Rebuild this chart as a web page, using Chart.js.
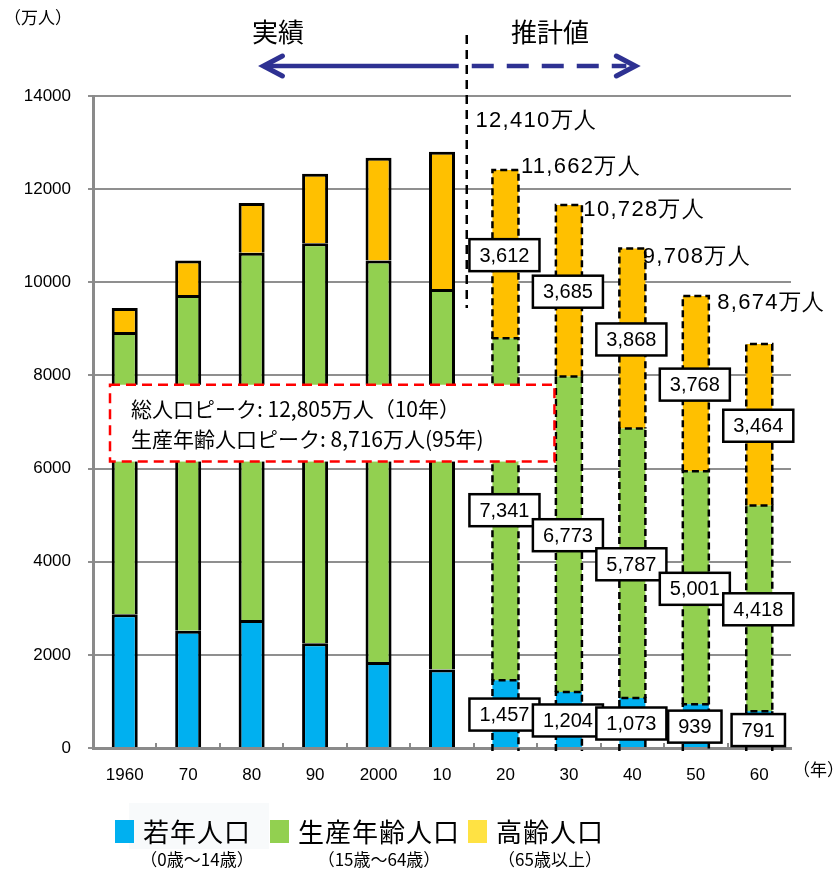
<!DOCTYPE html>
<html>
<head>
<meta charset="utf-8">
<script src="https://cdn.jsdelivr.net/npm/chart.js@4.4.1/dist/chart.umd.min.js"></script>
<style>
  html, body { margin: 0; padding: 0; background: #fff; }
  #wrap { width: 834px; height: 870px; position: relative; }
</style>
</head>
<body>
<div id="wrap"><canvas id="c" width="834" height="870"></canvas></div>
<script>
// 年齢3区分別人口の推移（万人）
const years    = ['1960', '70', '80', '90', '2000', '10', '20', '30', '40', '50', '60'];
const youth    = [2870, 2515, 2751, 2249, 1847, 1684, 1457, 1204, 1073, 939, 791];     // 0〜14歳
const working  = [6060, 7212, 7884, 8590, 8622, 8173, 7341, 6773, 5787, 5001, 4418];   // 15〜64歳
const elderly  = [520, 739, 1065, 1489, 2204, 2948, 3612, 3685, 3868, 3768, 3464];     // 65歳以上
const projectedTotals = [12410, 11662, 10728, 9708, 8674];                             // 2020〜2060 総人口
const yTicks   = [0, 2000, 4000, 6000, 8000, 10000, 12000, 14000];
const firstProjected = 6;  // 2020年以降は推計値

const peakNotes = ['総人口ピーク: 12,805万人（10年）', '生産年齢人口ピーク: 8,716万人(95年)'];
const legendItems = [
  { name: '若年人口',     sub: '（0歳～14歳）',  color: '#00B0F0' },
  { name: '生産年齢人口', sub: '（15歳～64歳）', color: '#92D050' },
  { name: '高齢人口',     sub: '（65歳以上）',   color: '#FFE243' }
];

const JP = '"Noto Sans CJK JP", "Noto Sans", sans-serif';
const NUM = '"Liberation Sans", Arial, sans-serif';
const fmt = v => v.toLocaleString('en-US');

const solidBorder = ctx => ctx.dataIndex < firstProjected
  ? { top: 3, left: 3, right: 3, bottom: 0 } : 0;

function makeSet(label, data, color) {
  return {
    label, data,
    backgroundColor: color,
    borderColor: '#000',
    borderWidth: solidBorder,
    borderSkipped: false,
    categoryPercentage: 1,
    barPercentage: 0.41
  };
}

// 総人口ラベルの棒からのずれ（px）
const totalLabelShift = [[-30, -49], [-48, -38], [-49, -38], [-53, -39], [-42, -41]];

const overlay = {
  id: 'overlay',
  afterDatasetsDraw(chart) {
    const { ctx, chartArea: area, scales: { x, y } } = chart;
    const step = x.getPixelForValue(1) - x.getPixelForValue(0);
    ctx.save();

    // x軸の目盛り（区切り位置、内向き）
    ctx.strokeStyle = '#8a8a8a';
    ctx.lineWidth = 2;
    for (let i = 1; i < years.length; i++) {
      const bx = Math.round(x.getPixelForValue(i) - step / 2);
      ctx.beginPath(); ctx.moveTo(bx, area.bottom); ctx.lineTo(bx, area.bottom - 5); ctx.stroke();
    }

    // 推計値の棒は破線枠
    ctx.strokeStyle = '#000';
    ctx.lineWidth = 2.5;
    ctx.setLineDash([7, 4]);
    chart.data.datasets.forEach((ds, di) => {
      chart.getDatasetMeta(di).data.forEach((bar, i) => {
        if (i < firstProjected) return;
        const p = bar.getProps(['x', 'y', 'base', 'width'], true);
        const l = p.x - p.width / 2, r = p.x + p.width / 2;
        const b = p.base + (di === 0 ? 4 : 0);
        ctx.beginPath();
        ctx.moveTo(l, b); ctx.lineTo(l, p.y); ctx.lineTo(r, p.y); ctx.lineTo(r, b);
        ctx.stroke();
      });
    });
    ctx.setLineDash([]);

    // 凡例の「若年人口」背景
    ctx.fillStyle = '#f8fafb';
    ctx.fillRect(129, 803, 140, 46);

    // 区分ごとの値ラベル（推計値）
    ctx.font = '20px ' + NUM;
    ctx.textAlign = 'center';
    ctx.textBaseline = 'middle';
    chart.data.datasets.forEach((ds, di) => {
      chart.getDatasetMeta(di).data.forEach((bar, i) => {
        if (i < firstProjected) return;
        const p = bar.getProps(['x', 'y', 'base'], true);
        const txt = fmt(ds.data[i]);
        const w = ctx.measureText(txt).width + 20, h = 32;
        const cx = p.x - 1, cy = (p.y + p.base) / 2 + 1;
        ctx.fillStyle = '#fff';
        ctx.fillRect(cx - w / 2, cy - h / 2, w, h);
        ctx.strokeStyle = '#000';
        ctx.lineWidth = 2.5;
        ctx.strokeRect(cx - w / 2, cy - h / 2, w, h);
        ctx.fillStyle = '#000';
        ctx.fillText(txt, cx, cy + 1);
      });
    });

    // 総人口ラベル（推計値）
    ctx.font = '22px ' + NUM;
    ctx.textAlign = 'left';
    ctx.fillStyle = '#000';
    if ('letterSpacing' in ctx) ctx.letterSpacing = '1.3px';
    projectedTotals.forEach((t, k) => {
      const i = firstProjected + k;
      const [dx, dy] = totalLabelShift[k];
      ctx.fillText(fmt(t) + '万人', x.getPixelForValue(i) + dx, y.getPixelForValue(t) + dy);
    });
    if ('letterSpacing' in ctx) ctx.letterSpacing = '0px';

    // ピーク注記（赤破線枠）
    const bx0 = x.getPixelForValue(0) - step / 2 + 17;
    const bx1 = x.getPixelForValue(firstProjected) + 49;
    const by0 = y.getPixelForValue(7800), by1 = y.getPixelForValue(6150);
    ctx.fillStyle = '#fff';
    ctx.fillRect(bx0, by0, bx1 - bx0, by1 - by0);
    ctx.strokeStyle = '#ff0000';
    ctx.lineWidth = 2.5;
    ctx.setLineDash([10, 6]);
    ctx.strokeRect(bx0, by0, bx1 - bx0, by1 - by0);
    ctx.setLineDash([]);
    ctx.fillStyle = '#000';
    ctx.font = '21px ' + JP;
    ctx.fillText(peakNotes[0], bx0 + 21, by0 + 24);
    ctx.fillText(peakNotes[1], bx0 + 21, by0 + 54);

    // 実績／推計値の境界線
    const divX = x.getPixelForValue(firstProjected - 1) + step * 0.39;
    ctx.strokeStyle = '#000';
    ctx.lineWidth = 2.5;
    ctx.setLineDash([9, 6]);
    ctx.beginPath();
    ctx.moveTo(divX, area.top - 61);
    ctx.lineTo(divX, y.getPixelForValue(9450));
    ctx.stroke();
    ctx.setLineDash([]);

    // 矢印
    const ay = area.top - 30;
    const leftTip = x.getPixelForValue(2) + step * 0.17;
    const rightTip = x.getPixelForValue(8) + 4;
    ctx.strokeStyle = '#2E3192';
    ctx.lineWidth = 4.5;
    ctx.lineCap = 'butt';
    ctx.beginPath(); ctx.moveTo(leftTip + 3, ay); ctx.lineTo(divX - 8, ay); ctx.stroke();
    ctx.setLineDash([22, 13]);
    ctx.beginPath(); ctx.moveTo(divX + 5, ay); ctx.lineTo(rightTip - 10, ay); ctx.stroke();
    ctx.setLineDash([]);
    ctx.lineWidth = 5;
    ctx.lineCap = 'round';
    ctx.lineJoin = 'miter';
    ctx.beginPath();
    ctx.moveTo(leftTip + 20, ay - 10); ctx.lineTo(leftTip + 1, ay); ctx.lineTo(leftTip + 20, ay + 10);
    ctx.stroke();
    ctx.beginPath();
    ctx.moveTo(rightTip - 20, ay - 10); ctx.lineTo(rightTip - 1, ay); ctx.lineTo(rightTip - 20, ay + 10);
    ctx.stroke();

    // 見出し
    ctx.fillStyle = '#000';
    ctx.font = '26px ' + JP;
    ctx.textAlign = 'center';
    ctx.fillText('実績', 278, 32);
    ctx.fillText('推計値', 550, 32);

    // 単位
    ctx.font = '17px ' + JP;
    ctx.textAlign = 'left';
    ctx.fillText('（万人）', 4, 18);
    ctx.fillText('（年）', 793, 770);

    // 凡例
    const legendX = [115, 270, 468];
    legendItems.forEach((it, k) => {
      const lx = legendX[k];
      ctx.fillStyle = it.color;
      ctx.fillRect(lx, 820, 19, 23);
      ctx.fillStyle = '#000';
      ctx.font = '26px ' + JP;
      ctx.textAlign = 'left';
      if ('letterSpacing' in ctx) ctx.letterSpacing = '1px';
      const nw = ctx.measureText(it.name).width;
      ctx.fillText(it.name, lx + 28, 832);
      if ('letterSpacing' in ctx) ctx.letterSpacing = '0px';
      ctx.font = '17px ' + JP;
      ctx.textAlign = 'center';
      ctx.fillText(it.sub, lx + 28 + nw / 2, 860);
    });

    ctx.restore();
  }
};

new Chart(document.getElementById('c'), {
  type: 'bar',
  data: {
    labels: years,
    datasets: [
      makeSet('若年人口', youth, '#00B0F0'),
      makeSet('生産年齢人口', working, '#92D050'),
      makeSet('高齢人口', elderly, '#FFC000')
    ]
  },
  options: {
    responsive: false,
    animation: false,
    devicePixelRatio: 1,
    layout: { padding: { top: 96, right: 43, bottom: 82, left: 0 } },
    plugins: { legend: { display: false }, tooltip: { enabled: false } },
    scales: {
      x: {
        stacked: true,
        grid: { display: false, drawTicks: false },
        border: { display: true, color: '#8a8a8a', width: 3 },
        ticks: { color: '#000', font: { family: NUM, size: 17 }, padding: 17, maxRotation: 0, autoSkip: false },
        afterFit(s) { s.height = 40; }
      },
      y: {
        stacked: true,
        min: 0, max: 14000,
        afterBuildTicks(s) { s.ticks = yTicks.map(v => ({ value: v })); },
        ticks: { color: '#000', font: { family: NUM, size: 17 }, padding: 17, callback: v => String(v) },
        grid: { color: '#8f8f8f', lineWidth: 2, tickLength: 5 },
        border: { color: '#8a8a8a', width: 3 },
        afterFit(s) { s.width = 93; }
      }
    }
  },
  plugins: [overlay]
});
</script>
</body>
</html>
